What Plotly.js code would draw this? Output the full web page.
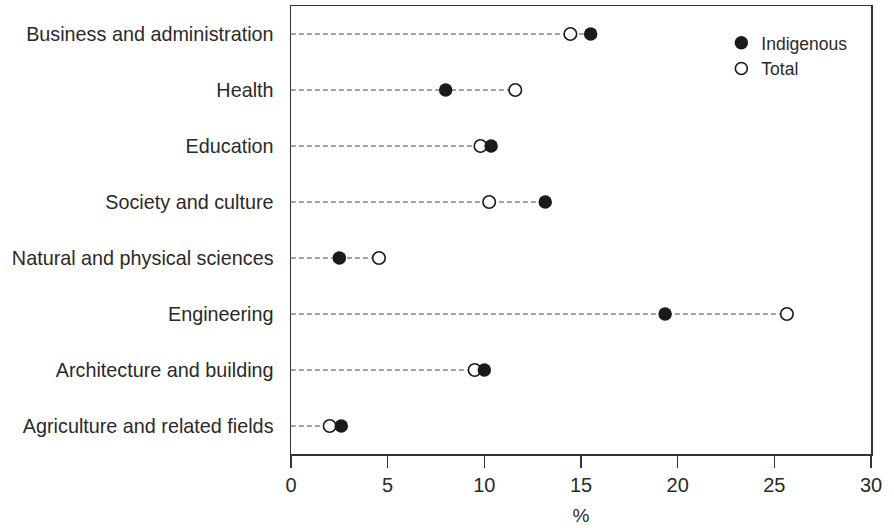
<!DOCTYPE html>
<html>
<head>
<meta charset="utf-8">
<script src="https://cdn.plot.ly/plotly-3.0.1.min.js"></script>
<style>html,body{margin:0;padding:0;background:#fff;}#chart{width:894px;height:528px;}</style>
</head>
<body>
<div id="chart"></div>
<script>
const categories = [
  "Business and administration",
  "Health",
  "Education",
  "Society and culture",
  "Natural and physical sciences",
  "Engineering",
  "Architecture and building",
  "Agriculture and related fields"
];
const indigenous = [15.5, 8.0, 10.35, 13.15, 2.5, 19.35, 10.0, 2.6];
const total = [14.45, 11.6, 9.8, 10.25, 4.55, 25.65, 9.5, 2.0];
const xTicks = [0, 5, 10, 15, 20, 25, 30];

const FONT = "Liberation Sans, Arial, sans-serif";
const TXT = "#2a2a2a";

// dashed guide lines from 0 to the larger of the two values
const lx = [], ly = [];
categories.forEach((c, i) => {
  lx.push(0, Math.max(indigenous[i], total[i]), null);
  ly.push(c, c, null);
});

const traces = [
  {x: lx, y: ly, type: "scatter", mode: "lines", showlegend: false, hoverinfo: "skip",
   line: {color: "#4a4a4a", width: 1.2, dash: "5px,3px"}},
  {x: total, y: categories, type: "scatter", mode: "markers", name: "Total", showlegend: false,
   marker: {symbol: "circle", size: 12.5, color: "#fff", line: {color: "#1a1a1a", width: 1.6}}},
  {x: indigenous, y: categories, type: "scatter", mode: "markers", name: "Indigenous",
   marker: {symbol: "circle", size: 13.5, color: "#1a1a1a", line: {color: "#1a1a1a", width: 0}}},
  {x: [null], y: [null], type: "scatter", mode: "markers", name: "Total",
   marker: {symbol: "circle", size: 12, color: "#fff", line: {color: "#1a1a1a", width: 1.6}}}
];

const layout = {
  width: 894, height: 528,
  margin: {l: 291, r: 23, t: 6, b: 74},
  paper_bgcolor: "#fff", plot_bgcolor: "#fff",
  font: {family: FONT, color: TXT, size: 18},
  showlegend: true,
  legend: {x: 0.742, y: 0.958, xanchor: "left", yanchor: "top", bgcolor: "rgba(0,0,0,0)",
           font: {family: FONT, size: 17.5, color: TXT}, itemwidth: 30, tracegroupgap: 0},
  xaxis: {
    range: [0, 30], tickvals: xTicks, ticktext: xTicks.map(String),
    showgrid: false, zeroline: false,
    showline: true, linecolor: "#333", linewidth: 1.5, mirror: true,
    ticks: "outside", ticklen: 12, tickwidth: 1.5, tickcolor: "#333",
    tickfont: {family: FONT, size: 20, color: TXT},
    title: {text: "%", font: {family: FONT, size: 19, color: TXT}, standoff: 14},
    fixedrange: true
  },
  yaxis: {
    type: "category", categoryorder: "array", categoryarray: categories,
    autorange: false, range: [7.5, -0.5],
    showgrid: false, zeroline: false,
    showline: true, linecolor: "#333", linewidth: 1.5, mirror: true,
    ticks: "", ticklabelstandoff: 12,
    tickfont: {family: FONT, size: 19.8, color: TXT},
    fixedrange: true
  }
};

Plotly.newPlot("chart", traces, layout, {displayModeBar: false, staticPlot: true});
</script>
</body>
</html>
